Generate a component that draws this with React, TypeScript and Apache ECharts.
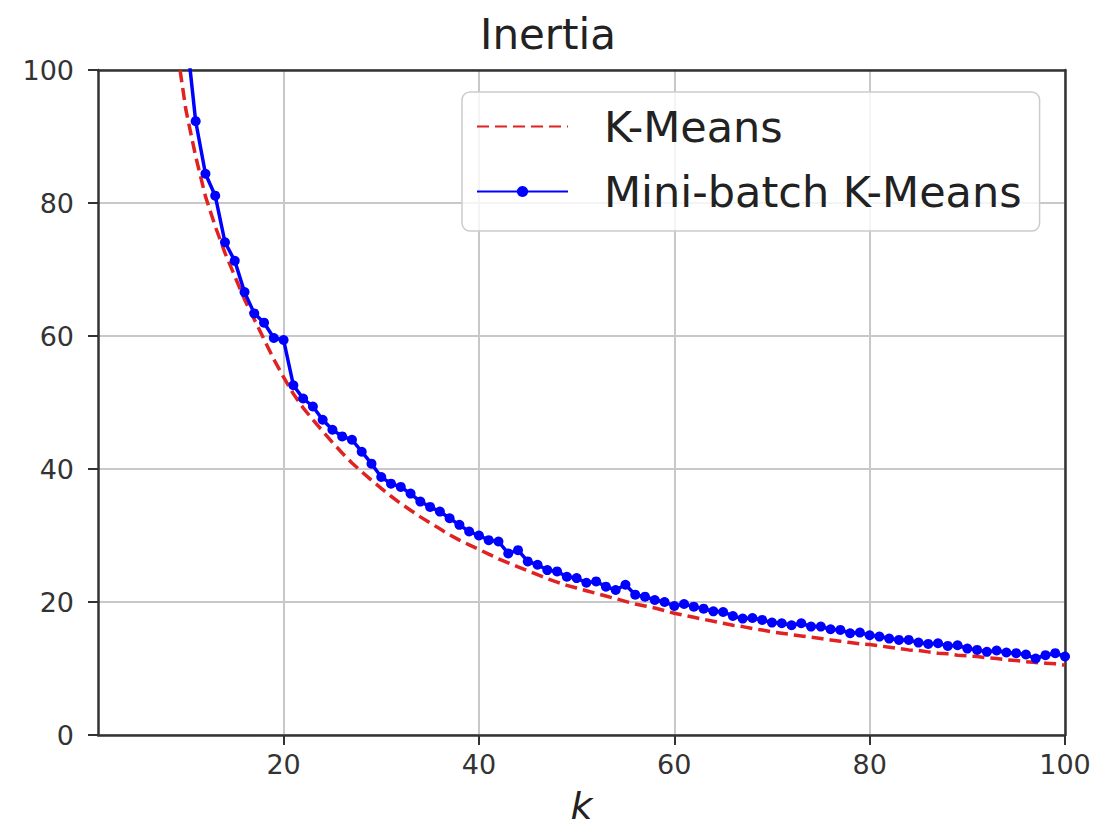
import React, { useEffect, useRef } from 'react';
import * as echarts from 'echarts';

// number of clusters k
const kValues = [
  1, 2, 3, 4, 5, 6, 7, 8, 9, 10,
  11, 12, 13, 14, 15, 16, 17, 18, 19, 20,
  21, 22, 23, 24, 25, 26, 27, 28, 29, 30,
  31, 32, 33, 34, 35, 36, 37, 38, 39, 40,
  41, 42, 43, 44, 45, 46, 47, 48, 49, 50,
  51, 52, 53, 54, 55, 56, 57, 58, 59, 60,
  61, 62, 63, 64, 65, 66, 67, 68, 69, 70,
  71, 72, 73, 74, 75, 76, 77, 78, 79, 80,
  81, 82, 83, 84, 85, 86, 87, 88, 89, 90,
  91, 92, 93, 94, 95, 96, 97, 98, 99, 100,
];

// K-Means inertia (red dashed)
const kmeansInertia = [
  1020, 560, 380, 272, 212, 170, 142, 121, 104, 94,
  87, 81, 76.5, 72.5, 69, 65.5, 62.5, 59.5, 56.5, 53.8,
  51.3, 49.2, 47.4, 45.7, 44.0, 42.4, 40.9, 39.6, 38.3, 37.1,
  35.9, 34.8, 33.8, 32.8, 31.9, 31.0, 30.1, 29.3, 28.6, 27.9,
  27.2, 26.5, 25.9, 25.3, 24.7, 24.1, 23.5, 23.0, 22.5, 22.1,
  21.7, 21.3, 20.9, 20.5, 20.1, 19.7, 19.4, 19.1, 18.7, 18.3,
  18.0, 17.7, 17.4, 17.1, 16.8, 16.5, 16.3, 16.0, 15.8, 15.5,
  15.3, 15.1, 14.9, 14.7, 14.5, 14.3, 14.1, 13.9, 13.7, 13.6,
  13.4, 13.2, 13.0, 12.8, 12.7, 12.5, 12.3, 12.2, 12.0, 11.9,
  11.8, 11.6, 11.5, 11.3, 11.2, 11.0, 10.9, 10.8, 10.7, 10.5,
];

// Mini-batch K-Means inertia (blue, dot markers)
const minibatchInertia = [
  1050, 590, 400, 290, 225, 182, 152, 130, 116, 106,
  92.3, 84.4, 81.1, 74.1, 71.3, 66.6, 63.4, 62.0, 59.7, 59.4,
  52.6, 50.6, 49.4, 47.4, 45.9, 44.9, 44.4, 42.6, 40.8, 38.8,
  37.8, 37.3, 36.3, 35.1, 34.3, 33.6, 32.6, 31.6, 30.6, 30.0,
  29.3, 29.1, 27.3, 27.8, 26.1, 25.6, 24.8, 24.6, 23.8, 23.6,
  22.9, 23.1, 22.3, 21.8, 22.6, 21.1, 20.8, 20.3, 20.0, 19.4,
  19.7, 19.3, 19.0, 18.6, 18.5, 17.9, 17.5, 17.6, 17.3, 16.9,
  16.8, 16.5, 16.8, 16.3, 16.3, 15.9, 15.8, 15.3, 15.4, 15.0,
  14.8, 14.5, 14.3, 14.3, 13.9, 13.7, 13.8, 13.4, 13.5, 13.0,
  12.8, 12.5, 12.7, 12.4, 12.3, 12.1, 11.5, 12.0, 12.3, 11.8,
];

const xTicks = [20, 40, 60, 80, 100];
const seriesNames = ['K-Means', 'Mini-batch K-Means'];

export default function App() {
  const ref = useRef<HTMLDivElement>(null);

  useEffect(() => {
    if (!ref.current) return;
    const chart = echarts.init(ref.current, null, { renderer: 'svg' });
    const font = 'DejaVu Sans';
    const spine = { color: '#333', width: 2.5 };
    const gridLine = { color: '#c8c8c8', width: 2 };
    chart.setOption({
      animation: false,
      backgroundColor: '#ffffff',
      textStyle: { fontFamily: font },
      title: {
        text: 'Inertia',
        left: 'center',
        top: 13,
        padding: [0, 0, 0, 67],
        textStyle: { fontSize: 42, fontWeight: 'normal', color: '#222', fontFamily: font },
      },
      legend: {
        orient: 'vertical',
        left: 462,
        top: 92,
        z: 20,
        padding: [13, 18, 18, 14],
        itemWidth: 91,
        itemHeight: 14,
        itemGap: 22,
        backgroundColor: 'rgba(255,255,255,0.8)',
        borderColor: '#cccccc',
        borderWidth: 1.5,
        borderRadius: 8,
        textStyle: { fontSize: 43, color: '#222', fontFamily: font, padding: [0, 0, 0, 31] },
        data: [
          { name: seriesNames[0], itemStyle: { color: 'rgba(0,0,0,0)', borderWidth: 0, opacity: 0 } },
          { name: seriesNames[1] },
        ],
      },
      grid: {
        left: 98,
        right: 31,
        top: 70,
        bottom: 97,
        show: true,
        borderWidth: 0,
        backgroundColor: '#ffffff',
        outerBoundsMode: 'none',
        containLabel: false,
      },
      xAxis: [
        {
          type: 'value',
          min: 1,
          max: 100,
          name: 'k',
          nameLocation: 'middle',
          nameGap: 52,
          nameTextStyle: { fontSize: 38, fontStyle: 'italic', color: '#222', fontFamily: font },
          axisLine: { show: true, onZero: false, lineStyle: spine },
          axisTick: { show: true, customValues: xTicks, length: 10, lineStyle: { color: '#333', width: 2 } },
          axisLabel: { customValues: xTicks, fontSize: 27, color: '#333', margin: 16, fontFamily: font },
          splitLine: { show: true, lineStyle: gridLine },
        },
        {
          type: 'value',
          position: 'top',
          min: 1,
          max: 100,
          axisLine: { show: true, onZero: false, lineStyle: spine },
          axisTick: { show: false },
          axisLabel: { show: false },
          splitLine: { show: false },
        },
      ],
      yAxis: [
        {
          type: 'value',
          min: 0,
          max: 100,
          interval: 20,
          axisLine: { show: true, onZero: false, lineStyle: spine },
          axisTick: { show: true, length: 10, lineStyle: { color: '#333', width: 2 } },
          axisLabel: { fontSize: 27, color: '#333', margin: 24, fontFamily: font },
          splitLine: { show: true, lineStyle: gridLine },
        },
        {
          type: 'value',
          position: 'right',
          min: 0,
          max: 100,
          interval: 20,
          axisLine: { show: true, onZero: false, lineStyle: spine },
          axisTick: { show: false },
          axisLabel: { show: false },
          splitLine: { show: false },
        },
      ],
      series: [
        {
          name: seriesNames[0],
          type: 'line',
          data: kValues.map((k, i) => [k, kmeansInertia[i]]),
          symbol: 'none',
          clip: true,
          z: 2,
          lineStyle: { color: '#e02222', width: 3.5, type: [12, 6] },
          itemStyle: { color: '#e02222' },
        },
        {
          name: seriesNames[1],
          type: 'line',
          data: kValues.map((k, i) => [k, minibatchInertia[i]]),
          symbol: 'circle',
          symbolSize: 10,
          clip: true,
          z: 3,
          lineStyle: { color: '#0000ff', width: 3.5 },
          itemStyle: { color: '#0000ff' },
        },
      ],
    });
    return () => chart.dispose();
  }, []);

  return (
    <div
      ref={ref}
      style={{ position: 'fixed', left: 0, top: 0, width: 1096, height: 832, background: '#ffffff' }}
    />
  );
}
